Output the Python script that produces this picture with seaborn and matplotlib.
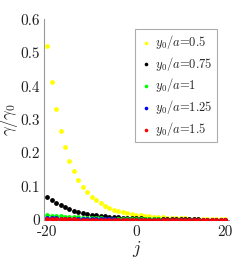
import numpy as np
import pandas as pd
import matplotlib
matplotlib.use("Agg")
import matplotlib.pyplot as plt
import seaborn as sns

j = list(range(-20, 21))
y_05 = [0.520, 0.413, 0.331, 0.267, 0.217, 0.177, 0.146, 0.120, 0.100, 0.083,
        0.070, 0.059, 0.050, 0.042, 0.036, 0.031, 0.027, 0.023, 0.020, 0.018,
        0.016, 0.014, 0.012, 0.011, 0.010, 0.009, 0.008, 0.007, 0.006, 0.006,
        0.005, 0.005, 0.004, 0.004, 0.004, 0.003, 0.003, 0.003, 0.003, 0.002, 0.002]
y_075 = [0.070, 0.059, 0.051, 0.044, 0.038, 0.033, 0.028, 0.024, 0.021, 0.018,
         0.016, 0.014, 0.012, 0.011, 0.010, 0.009, 0.008, 0.007, 0.006, 0.006,
         0.005, 0.005, 0.004, 0.004, 0.004, 0.003, 0.003, 0.003, 0.003, 0.002,
         0.002, 0.002, 0.002, 0.002, 0.002, 0.001, 0.001, 0.001, 0.001, 0.001, 0.001]
y_1 = [0.015, 0.013, 0.012, 0.011, 0.010, 0.009, 0.008, 0.008, 0.007, 0.006,
       0.006, 0.005, 0.005, 0.004, 0.004, 0.004, 0.003, 0.003, 0.003, 0.003,
       0.002, 0.002, 0.002, 0.002, 0.002, 0.002, 0.001, 0.001, 0.001, 0.001,
       0.001, 0.001, 0.001, 0.001, 0.001, 0.001, 0.001, 0.001, 0.001, 0.001, 0.001]
y_125 = [0.006, 0.005, 0.005, 0.004, 0.004, 0.004, 0.003, 0.003, 0.003, 0.003,
         0.002, 0.002, 0.002, 0.002, 0.002, 0.002, 0.001, 0.001, 0.001, 0.001,
         0.001, 0.001, 0.001, 0.001, 0.001, 0.001, 0.001, 0.001, 0.0005, 0.0005,
         0.0005, 0.0005, 0.0005, 0.0005, 0.0005, 0.0005, 0.0005, 0.0005, 0.0005, 0.0005, 0.0005]
y_15 = [0.002, 0.002, 0.002, 0.002, 0.0015, 0.0015, 0.0015, 0.001, 0.001, 0.001,
        0.001, 0.001, 0.001, 0.001, 0.0008, 0.0008, 0.0008, 0.0006, 0.0006, 0.0006,
        0.0005, 0.0005, 0.0005, 0.0005, 0.0004, 0.0004, 0.0004, 0.0004, 0.0003, 0.0003,
        0.0003, 0.0003, 0.0003, 0.0002, 0.0002, 0.0002, 0.0002, 0.0002, 0.0002, 0.0002, 0.0002]

series = [
    (y_05, "#ffff00", r"$y_0/a$=0.5"),
    (y_075, "#000000", r"$y_0/a$=0.75"),
    (y_1, "#00ff00", r"$y_0/a$=1"),
    (y_125, "#0000ff", r"$y_0/a$=1.25"),
    (y_15, "#ff0000", r"$y_0/a$=1.5"),
]

sns.set_style("ticks")
plt.rcParams["font.family"] = ["cmr10", "DejaVu Serif"]
plt.rcParams["mathtext.fontset"] = "cm"
plt.rcParams["axes.unicode_minus"] = False
plt.rcParams["axes.formatter.use_mathtext"] = True

fig = plt.figure(figsize=(2.49, 2.60), dpi=100)
ax = fig.add_axes([0.177, 0.154, 0.743, 0.772])

for vals, col, lbl in series:
    df = pd.DataFrame({"j": j, "g": vals})
    sns.scatterplot(data=df, x="j", y="g", color=col, s=12, linewidth=0,
                    label=lbl, ax=ax, zorder=3)

ax.set_xlim(-20.7, 20.9)
ax.set_ylim(0, 0.6)
ax.set_xticks([-20, 0, 20])
ax.set_xticklabels(["-20", "0", "20"])
ax.set_yticks([0, 0.1, 0.2, 0.3, 0.4, 0.5, 0.6])
ax.set_yticklabels(["0", "0.1", "0.2", "0.3", "0.4", "0.5", "0.6"])
ax.tick_params(length=0, labelsize=11, colors="#222222")
ax.tick_params(axis="x", pad=4)
ax.tick_params(axis="y", pad=3)
ax.set_xlabel(r"$j$", fontsize=13, labelpad=0)
ax.set_ylabel(r"$\gamma/\gamma_0$", fontsize=12, labelpad=0)
sns.despine(ax=ax)
for sp in ["left", "bottom"]:
    ax.spines[sp].set_color("#999999")
    ax.spines[sp].set_linewidth(0.8)

leg = ax.legend(loc="upper right", bbox_to_anchor=(0.97, 0.985), fontsize=9,
                frameon=True, fancybox=False, edgecolor="#999999",
                handletextpad=0.2, labelspacing=0.3, borderpad=0.35,
                handlelength=1.1, markerscale=0.75)
leg.get_frame().set_linewidth(0.8)

fig.savefig("out.png", dpi=100)
